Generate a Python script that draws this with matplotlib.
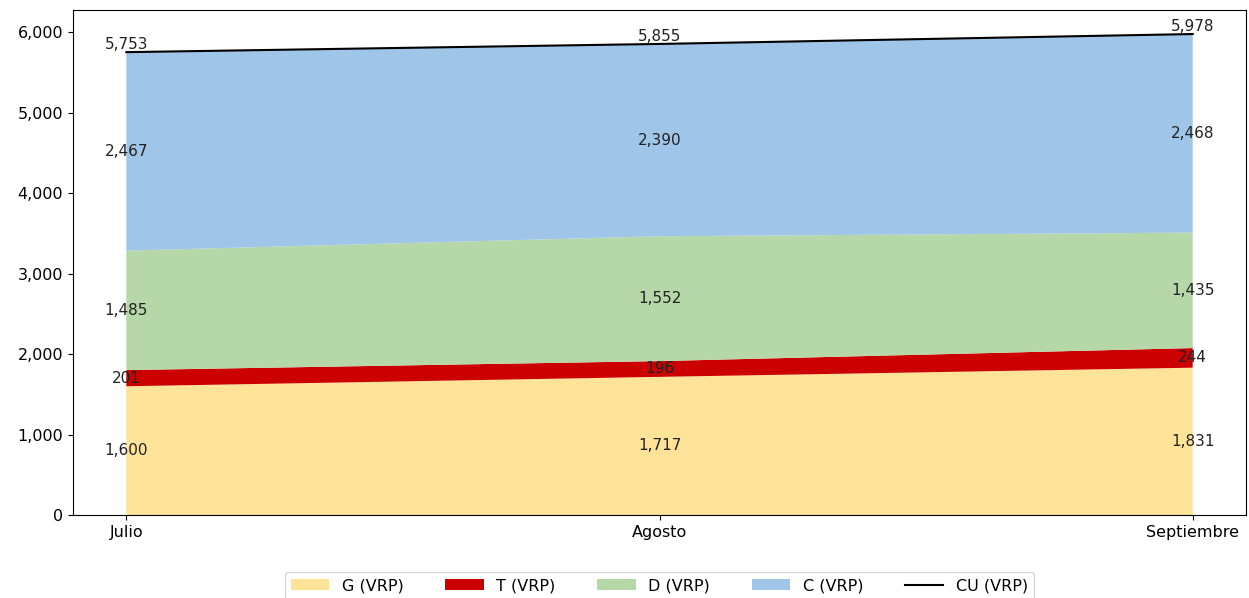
import numpy as np
import matplotlib
matplotlib.use("Agg")
import matplotlib.pyplot as plt
from matplotlib.ticker import FuncFormatter

meses = ["Julio", "Agosto", "Septiembre"]
g_vrp = [1600, 1717, 1831]
t_vrp = [201, 196, 244]
d_vrp = [1485, 1552, 1435]
c_vrp = [2467, 2390, 2468]
cu_vrp = [5753, 5855, 5978]

series = [g_vrp, t_vrp, d_vrp, c_vrp]
nombres = ["G (VRP)", "T (VRP)", "D (VRP)", "C (VRP)"]
colores = ["#FFE399", "#CC0000", "#B6D7A8", "#9FC5E8"]

fig = plt.figure(figsize=(12.49, 5.98), dpi=100)
ax = fig.add_axes([73 / 1249, 83 / 598, (1246 - 73) / 1249, 505 / 598])

x = np.arange(len(meses))
ax.stackplot(x, *series, labels=nombres, colors=colores)
ax.plot(x, cu_vrp, color="black", label="CU (VRP)")

# etiquetas en el centro de cada capa
base = np.zeros(len(meses))
for s in series:
    s = np.array(s)
    for i in range(len(meses)):
        ax.text(x[i], base[i] + s[i] / 2, f"{s[i]:,}", ha="center", va="center",
                fontsize=11, color="#222222")
    base = base + s
for i in range(len(meses)):
    ax.text(x[i], cu_vrp[i], f"{cu_vrp[i]:,}", ha="center", va="bottom",
            fontsize=11, color="#222222")

ax.set_xticks(x)
ax.set_xticklabels(meses)
ax.yaxis.set_major_formatter(FuncFormatter(lambda v, p: f"{int(v):,}"))
ax.tick_params(labelsize=11.5)

ax.legend(loc="upper center", bbox_to_anchor=(0.5, -0.113), borderaxespad=0,
          ncol=5, fontsize=11.5, handlelength=2.4, columnspacing=2.6)

fig.savefig("out.png", dpi=100)
